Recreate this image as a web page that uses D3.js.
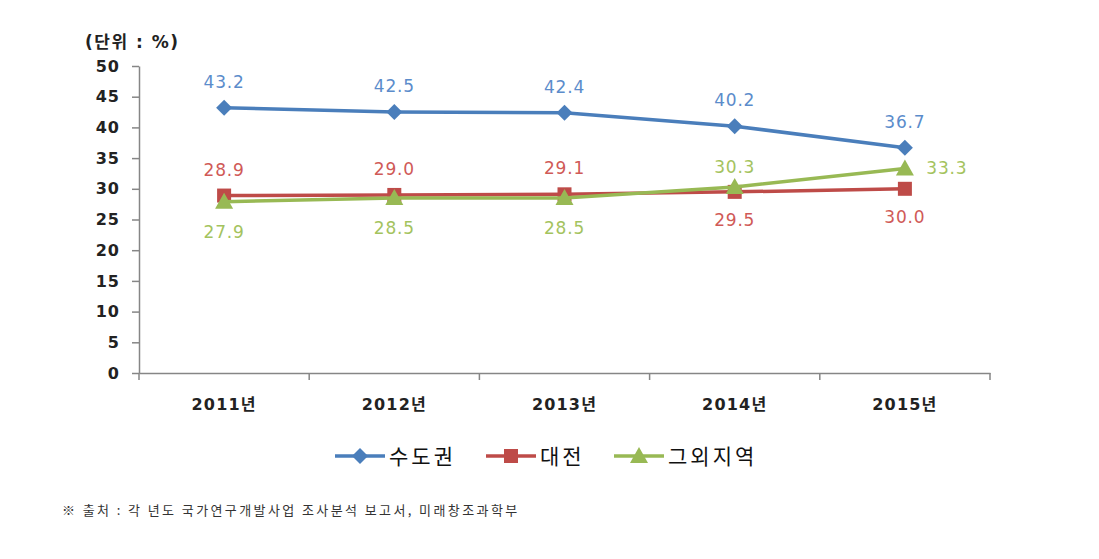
<!DOCTYPE html>
<html><head><meta charset="utf-8">
<script src="https://cdn.jsdelivr.net/npm/d3@7"></script>
<style>body{margin:0;background:#fff}svg{display:block}</style>
</head><body>
<svg id="c" width="1099" height="559"></svg>
<script>
const categories = ["2011년","2012년","2013년","2014년","2015년"];
const seriesNames = ["수도권","대전","그외지역"];
const capital = [43.2,42.5,42.4,40.2,36.7];
const daejeon = [28.9,29.0,29.1,29.5,30.0];
const others = [27.9,28.5,28.5,30.3,33.3];
const yTicks = [0,5,10,15,20,25,30,35,40,45,50];
const colors = ["#4A7EBB","#BE4B48","#98B954"];
const labelColors = ["#5B8CCB","#D05A57","#A4C35E"];
// label placement: dx, dy relative to point
const labelPos = [
  [[0,-20],[0,-20],[0,-20],[0,-20],[0,-20]],
  [[0,-20],[0,-20],[0,-20],[0,34],[0,34]],
  [[0,36],[0,36],[0,36],[0,-14],[42,5]]
];
const all = [capital, daejeon, others];

const svg = d3.select("#c");
const font = "Verdana, 'DejaVu Sans', 'Noto Sans CJK KR', sans-serif";
const x0 = 139, x1 = 990, y0 = 373, y1 = 66;
const x = d3.scaleBand().domain(categories).range([x0,x1]);
const y = d3.scaleLinear().domain([0,50]).range([y0,y1]);

// Y axis
const ya = svg.append("g").attr("transform",`translate(${x0},0)`)
  .call(d3.axisLeft(y).tickValues(yTicks).tickSize(7).tickSizeOuter(0).tickPadding(6));
ya.select(".domain").attr("stroke","#868686").attr("stroke-width",1.5);
ya.selectAll(".tick line").attr("stroke","#868686").attr("stroke-width",1.5);
ya.selectAll("text").attr("font-family",font).attr("font-size",16).attr("font-weight","bold")
  .attr("letter-spacing",1).attr("fill","#222").attr("dx",-6);

// X axis
const xa = svg.append("g").attr("transform",`translate(0,${y0})`)
  .call(d3.axisBottom(x).tickSize(0).tickPadding(26));
xa.select(".domain").attr("stroke","#868686").attr("stroke-width",1.5);
xa.selectAll("text").attr("font-family",font).attr("font-size",16).attr("font-weight","bold")
  .attr("letter-spacing",1.2).attr("fill","#222");
// boundary ticks
const bounds = categories.map(c=>x(c)).concat([x1]);
svg.append("g").selectAll("line").data(bounds).join("line")
  .attr("x1",d=>d).attr("x2",d=>d).attr("y1",y0).attr("y2",y0+7)
  .attr("stroke","#868686").attr("stroke-width",1.5);

// unit label
svg.append("text").attr("x",85).attr("y",48).text("(단위 : %)")
  .attr("font-family",font).attr("font-size",17).attr("font-weight","bold")
  .attr("letter-spacing",1.5).attr("fill","#222");

const cx = c => x(c) + x.bandwidth()/2;
const line = d3.line().x((d,i)=>cx(categories[i])).y(d=>y(d));

function marker(g, type, color, px, py){
  if(type===0){
    g.append("path").attr("d",`M${px},${py-8}L${px+8},${py}L${px},${py+8}L${px-8},${py}Z`).attr("fill",color);
  } else if(type===1){
    g.append("rect").attr("x",px-7).attr("y",py-7).attr("width",14).attr("height",14).attr("fill",color);
  } else {
    g.append("path").attr("d",`M${px},${py-9}L${px+9},${py+7}L${px-9},${py+7}Z`).attr("fill",color);
  }
}

all.forEach((vals,si)=>{
  const g = svg.append("g");
  g.append("path").attr("d",line(vals)).attr("fill","none").attr("stroke",colors[si]).attr("stroke-width",3.5);
  vals.forEach((v,i)=>marker(g,si,colors[si],cx(categories[i]),y(v)));
});
all.forEach((vals,si)=>{
  svg.append("g").selectAll("text").data(vals).join("text")
    .attr("x",(d,i)=>cx(categories[i])+labelPos[si][i][0])
    .attr("y",(d,i)=>y(d)+labelPos[si][i][1])
    .attr("text-anchor","middle")
    .attr("font-family",font).attr("font-size",17).attr("letter-spacing",0.8).attr("fill",labelColors[si])
    .text(d=>d.toFixed(1));
});

// legend
const legX = [335, 486, 614];
const leg = svg.append("g");
seriesNames.forEach((n,i)=>{
  const lx = legX[i], ly = 456;
  leg.append("line").attr("x1",lx).attr("x2",lx+50).attr("y1",ly).attr("y2",ly).attr("stroke",colors[i]).attr("stroke-width",3.5);
  marker(leg,i,colors[i],lx+25,ly);
  leg.append("text").attr("x",lx+54).attr("y",ly+8).text(n)
    .attr("font-family","'Noto Sans CJK KR', sans-serif").attr("font-size",21).attr("letter-spacing",3).attr("fill","#111");
});

svg.append("text").attr("x",62).attr("y",515)
  .text("※  출처 : 각 년도 국가연구개발사업 조사분석 보고서, 미래창조과학부")
  .attr("font-family","'Noto Sans CJK KR', sans-serif").attr("font-size",13).attr("letter-spacing",2.4).attr("fill","#333");
</script>
</body></html>
